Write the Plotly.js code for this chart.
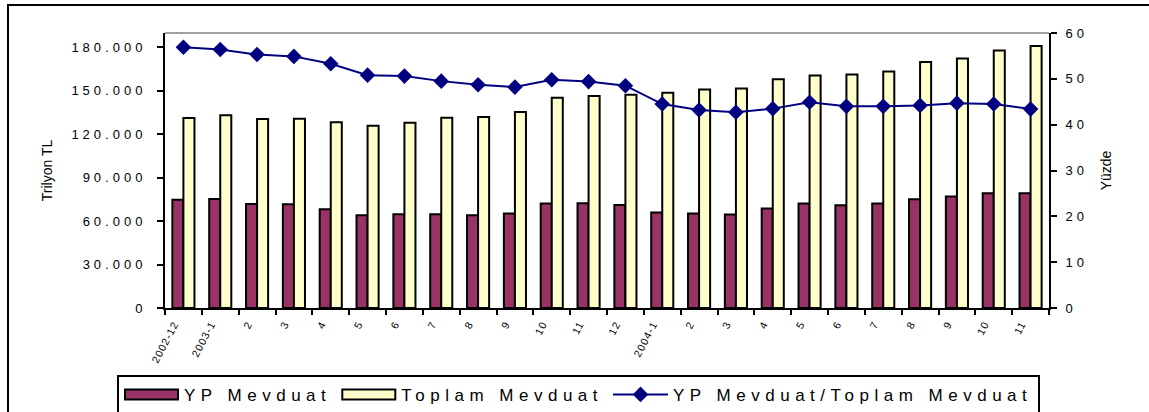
<!DOCTYPE html>
<html>
<head>
<meta charset="utf-8">
<script src="https://cdn.plot.ly/plotly-3.0.1.min.js"></script>
<style>
  html, body { margin: 0; padding: 0; background: #fff; }
  #wrap { position: relative; width: 1149px; height: 412px; overflow: hidden; }
  #frame { position: absolute; left: 7px; top: 4px; width: 1200px; height: 500px;
           border-left: 2px solid #000; border-top: 2px solid #000; pointer-events: none; }
  #chart { position: absolute; left: 0; top: 0; width: 1149px; height: 412px; }
  .ytick text, .y2tick text { letter-spacing: 4px; }
  .xtick text { letter-spacing: 1px; }
  .legendtext { letter-spacing: 5.5px; }
</style>
</head>
<body>
<div id="wrap">
  <div id="chart"></div>
  <div id="frame"></div>
</div>
<script>
// Months (unique keys) and the labels shown under them
const months = ["2002-12","2003-01","2003-02","2003-03","2003-04","2003-05","2003-06","2003-07",
                "2003-08","2003-09","2003-10","2003-11","2003-12","2004-01","2004-02","2004-03",
                "2004-04","2004-05","2004-06","2004-07","2004-08","2004-09","2004-10","2004-11"];
const tickLabels = ["2002-12","2003-1","2","3","4","5","6","7","8","9","10","11","12",
                    "2004-1","2","3","4","5","6","7","8","9","10","11"];
// YP Mevduat (trilyon TL)
const ypMevduat = [74800, 75300, 71900, 71700, 68300, 64100, 64700, 64800, 64100, 65300, 72200, 72400,
                   71200, 65900, 65300, 64600, 68700, 72200, 71000, 72200, 75200, 77000, 79300, 79300];
// Toplam Mevduat (trilyon TL)
const toplamMevduat = [131200, 133100, 130600, 130800, 128300, 125900, 128000, 131500, 131900, 135400, 145200, 146400,
                       147300, 148700, 151000, 151700, 158100, 160700, 161400, 163400, 169900, 172400, 177900, 181100];
// YP Mevduat / Toplam Mevduat (%)
const oran = [56.9, 56.4, 55.3, 54.9, 53.3, 50.8, 50.6, 49.5, 48.7, 48.2, 49.8, 49.4,
              48.5, 44.5, 43.2, 42.7, 43.5, 44.9, 44.0, 44.0, 44.2, 44.7, 44.5, 43.4];

const FONT = "Arial, 'Liberation Sans', sans-serif";
const LEGEND_ITEM_W = 55;

const traces = [
  { type: "bar", name: "YP Mevduat", x: months, y: ypMevduat,
    marker: { color: "#993366", line: { color: "#000", width: 2 } } },
  { type: "bar", name: "Toplam Mevduat", x: months, y: toplamMevduat,
    marker: { color: "#FFFFCC", line: { color: "#000", width: 2 } } },
  { type: "scatter", mode: "lines+markers", name: "YP Mevduat/Toplam Mevduat",
    x: months, y: oran, yaxis: "y2",
    line: { color: "#000080", width: 2 },
    marker: { symbol: "diamond", size: 12, color: "#000080" } }
];

const layout = {
  width: 1149, height: 412,
  margin: { l: 165, r: 100, t: 33, b: 104, autoexpand: false },
  paper_bgcolor: "rgba(0,0,0,0)", plot_bgcolor: "#fff",
  font: { family: FONT, color: "#000" },
  separators: ",.",
  barmode: "group", bargap: 0.4, bargroupgap: 0,
  showlegend: true,
  hovermode: false,
  xaxis: {
    type: "category", tickmode: "array", tickvals: months, ticktext: tickLabels,
    range: [-0.5, months.length - 0.5], automargin: false,
    tickson: "boundaries", ticks: "outside", ticklen: 5, tickwidth: 2, tickcolor: "#000",
    showline: true, linecolor: "#000", linewidth: 2, showgrid: false, zeroline: false,
    tickangle: -62, tickfont: { size: 10.5, family: FONT, color: "#000" },
    ticklabelshift: -9, ticklabelstandoff: 4
  },
  yaxis: {
    range: [0, 190000], tick0: 0, dtick: 30000, tickformat: ",d", automargin: false,
    ticks: "outside", ticklen: 6, tickwidth: 2, tickcolor: "#000",
    showline: true, linecolor: "#000", linewidth: 2, showgrid: false, zeroline: false,
    tickfont: { size: 13, family: FONT, color: "#000" },
    ticklabelstandoff: 8,
    title: { text: "Trilyon TL", font: { size: 14, family: FONT, color: "#000" }, standoff: 16 }
  },
  yaxis2: {
    overlaying: "y", side: "right", range: [0, 60], tick0: 0, dtick: 10, automargin: false,
    ticks: "outside", ticklen: 6, tickwidth: 2, tickcolor: "#000",
    showline: true, linecolor: "#000", linewidth: 2, showgrid: false, zeroline: false,
    tickfont: { size: 13, family: FONT, color: "#000" },
    ticklabelstandoff: 6,
    title: { text: "Yüzde", font: { size: 14, family: FONT, color: "#000" }, standoff: 14 }
  },
  legend: {
    orientation: "h", x: -0.0543, xanchor: "left", y: -0.243, yanchor: "top",
    bordercolor: "#000", borderwidth: 2, bgcolor: "#fff",
    font: { size: 17, family: FONT, color: "#000" },
    itemwidth: LEGEND_ITEM_W, tracegroupgap: 0
  },
  shapes: [
    { type: "line", xref: "paper", yref: "paper", x0: 0, x1: 1, y0: 1, y1: 1,
      line: { color: "#808080", width: 1.5 } }
  ]
};

Plotly.newPlot("chart", traces, layout, { displayModeBar: false, staticPlot: true }).then(function (gd) {
  // Widen the bar swatches in the legend to the full item width (Excel-style keys)
  const half = LEGEND_ITEM_W / 2 - 1;
  gd.querySelectorAll(".legend .legendpoints path").forEach(function (p) {
    const d = (p.getAttribute("d") || "").replace(/\s/g, "");
    if (d === "M6,6H-6V-6H6Z") {
      p.setAttribute("d", "M" + half + ",5H-" + half + "V-5H" + half + "Z");
    }
  });
});
</script>
</body>
</html>
